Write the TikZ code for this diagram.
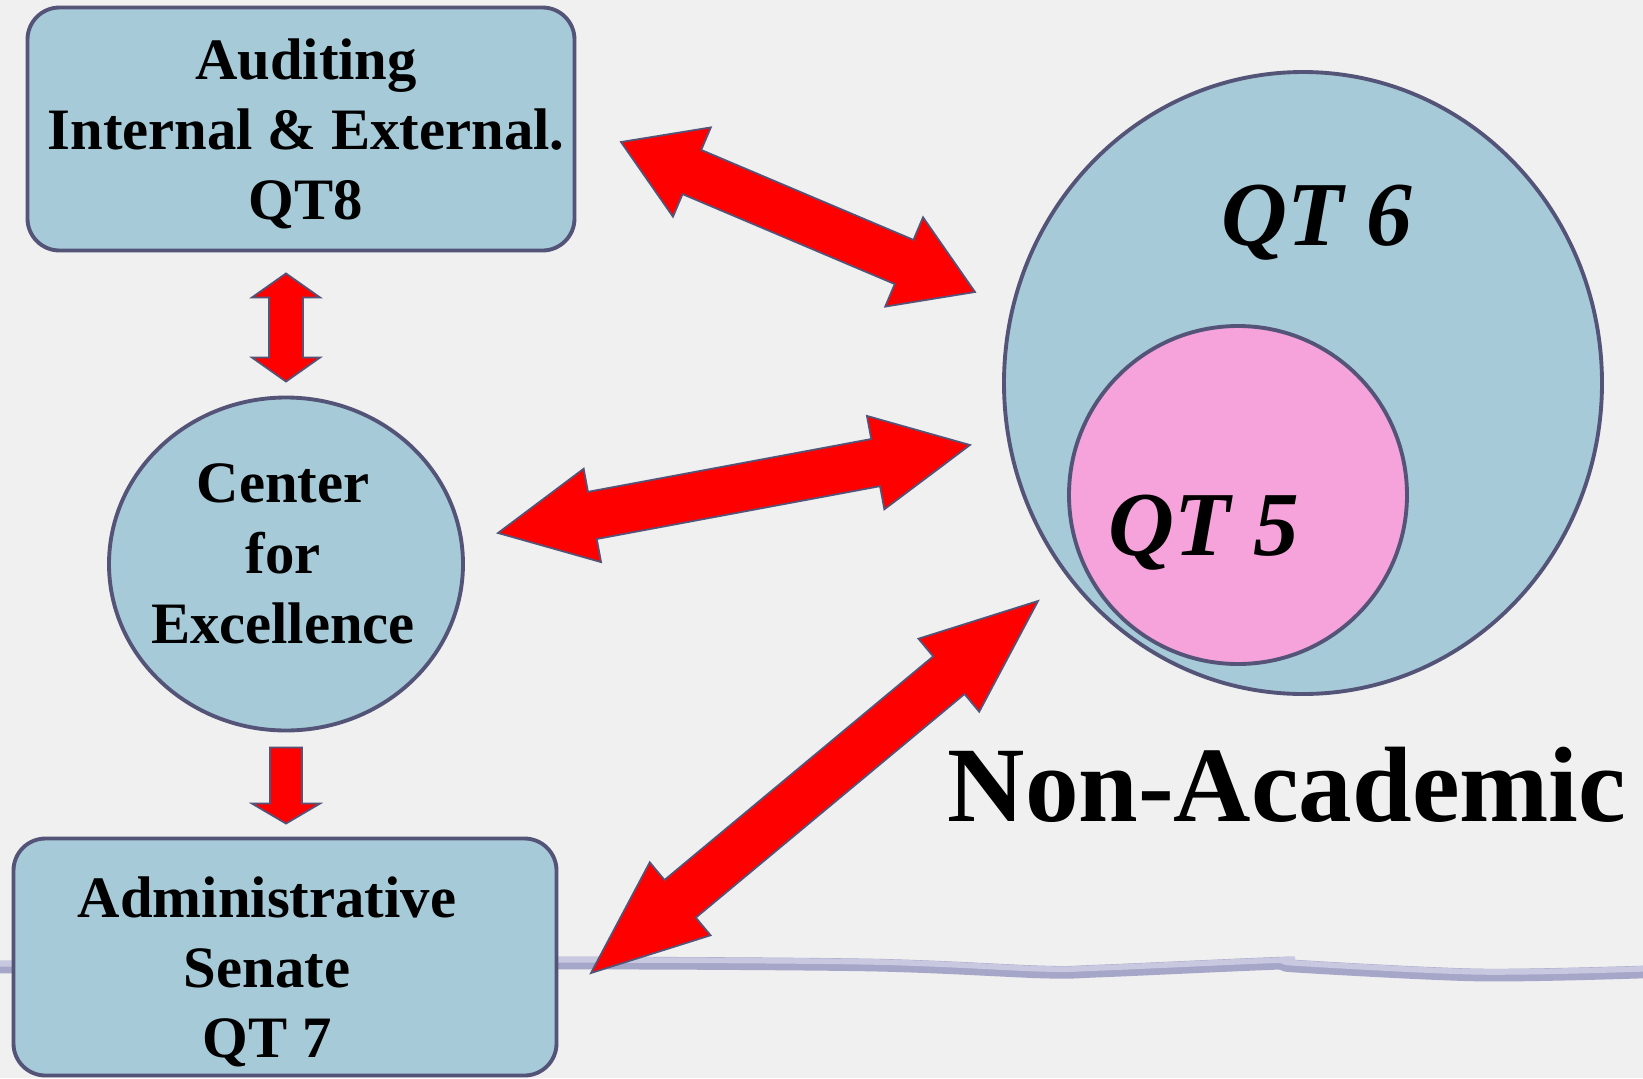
\documentclass[tikz,border=0pt]{standalone}
\usepackage{fontspec}
\setmainfont{Liberation Serif}
\usetikzlibrary{calc,positioning,shapes.geometric}

\definecolor{slidebg}{HTML}{F0F0F0}
\definecolor{boxblue}{HTML}{A7CAD8}
\definecolor{boxedge}{HTML}{545478}
\definecolor{pinkfill}{HTML}{F5A3DA}
\definecolor{wavedark}{HTML}{A6A6C8}
\definecolor{wavelight}{HTML}{C8C8E1}

\tikzset{
  infobox/.style={draw=boxedge, fill=boxblue, line width=1.1pt},
  boxtext/.style={font=\fontsize{16.7}{20}\selectfont\bfseries, align=center, inner sep=0pt},
  qtlabel/.style={font=\fontsize{26}{30}\selectfont\bfseries\itshape, anchor=base, inner sep=0pt},
  redarrow/.style={fill=red, draw=boxedge, line width=0.5pt, line join=miter},
  % block arrow with a head at both ends: half shaft, half head, head length
  fat both/.style n args={3}{to path={
    -- ($($(\tikztostart)!#3!(\tikztotarget)$)!#2!90:(\tikztotarget)$)
    -- ($($(\tikztostart)!#3!(\tikztotarget)$)!#1!90:(\tikztotarget)$)
    -- ($($(\tikztotarget)!#3!(\tikztostart)$)!#1!90:(\tikztotarget)$)
    -- ($($(\tikztotarget)!#3!(\tikztostart)$)!#2!90:(\tikztotarget)$)
    -- (\tikztotarget)
    -- ($($(\tikztotarget)!#3!(\tikztostart)$)!#2!-90:(\tikztotarget)$)
    -- ($($(\tikztotarget)!#3!(\tikztostart)$)!#1!-90:(\tikztotarget)$)
    -- ($($(\tikztostart)!#3!(\tikztotarget)$)!#1!-90:(\tikztotarget)$)
    -- ($($(\tikztostart)!#3!(\tikztotarget)$)!#2!-90:(\tikztotarget)$)
    -- cycle}},
  % block arrow with one head
  fat one/.style n args={3}{to path={
    ($(\tikztostart)!#1!90:(\tikztotarget)$)
    -- ($($(\tikztotarget)!#3!(\tikztostart)$)!#1!90:(\tikztotarget)$)
    -- ($($(\tikztotarget)!#3!(\tikztostart)$)!#2!90:(\tikztotarget)$)
    -- (\tikztotarget)
    -- ($($(\tikztotarget)!#3!(\tikztostart)$)!#2!-90:(\tikztotarget)$)
    -- ($($(\tikztotarget)!#3!(\tikztostart)$)!#1!-90:(\tikztotarget)$)
    -- ($(\tikztostart)!#1!-90:(\tikztotarget)$)
    -- cycle}},
}

\begin{document}
\begin{tikzpicture}[x=0.1mm, y=-0.1mm]
    % Slide background
    \useasboundingbox (0,0) rectangle (1643,1078);
    \fill[slidebg] (0,0) rectangle (1643,1078);

    % Wavy rule across the slide
    \draw[wavedark, line width=3.6pt, line cap=round]
        plot[smooth, tension=0.5] coordinates {(0,967) (300,965) (560,963) (870,965) (1043,972)
        (1100,971) (1286,963) (1293,966) (1479,975) (1643,972)};
    \draw[wavelight, line width=1.6pt, line cap=round, yshift=0.9pt]
        plot[smooth, tension=0.5] coordinates {(0,967) (300,965) (560,963) (870,965) (1043,972)
        (1100,971) (1286,963) (1293,966) (1479,975) (1643,972)};

    % Left column
    \node[infobox, rounded corners=3.2mm, minimum width=54.7mm, minimum height=24.3mm]
        (audit) at (301,129) {};
    \node[boxtext] (audittxt) at (306,134) {Auditing\\Internal \& External.\\QT8};
    \node[infobox, ellipse, minimum width=35.4mm, minimum height=33.3mm]
        (excel) at (286,564) {};
    \node[boxtext] (exceltxt) at (283,554) {Center\\for\\Excellence};
    \node[infobox, rounded corners=3.2mm, minimum width=54.3mm, minimum height=23.7mm]
        (senate) at (285,957) {};
    \node[boxtext] (senatetxt) at (267,972) {Administrative\\Senate\\QT 7};

    % Non-academic circles
    \node[infobox, ellipse, minimum width=59.8mm, minimum height=62.2mm] (qtsix) at (1303,383) {};
    \node[infobox, fill=pinkfill, circle, minimum size=33.8mm] (qtfive) at (1238,495) {};
    \node[qtlabel] (qtsixlbl) at (1317,245) {QT 6};
    \node[qtlabel] (qtfivelbl) at (1204,555) {QT 5};
    \node[font=\fontsize{30.5}{34}\selectfont\bfseries, anchor=base, inner sep=0pt]
        (nonacad) at (1287,821) {Non-Academic};

    % Arrow ends
    \coordinate (vtop) at ($(excel.north |- audit.south)+(0,21)$);
    \coordinate (vbot) at ($(excel.north)+(0,-14)$);
    \coordinate (dtop) at ($(excel.south)+(0,15)$);
    \coordinate (dbot) at ($(excel.south |- senate.north)+(0,-13)$);
    \coordinate (auditend) at (621,142);
    \coordinate (sixtop) at (975,292);
    \coordinate (excelend) at (498,533);
    \coordinate (sixmid) at (970,445);
    \coordinate (senateend) at (591,973);
    \coordinate (sixlow) at (1038,601);

    % Arrows
    \draw[redarrow, fat both={1.7mm}{3.4mm}{2.4mm}] (vtop) to (vbot);
    \draw[redarrow, fat one={1.6mm}{3.4mm}{2.0mm}] (dtop) to (dbot);
    \draw[redarrow, fat both={2.4mm}{4.85mm}{7.7mm}] (auditend) to (sixtop);
    \draw[redarrow, fat both={2.4mm}{4.75mm}{9.6mm}] (excelend) to (sixmid);
    \draw[redarrow, fat both={2.45mm}{4.75mm}{11.6mm}] (senateend) to (sixlow);
\end{tikzpicture}
\end{document}
